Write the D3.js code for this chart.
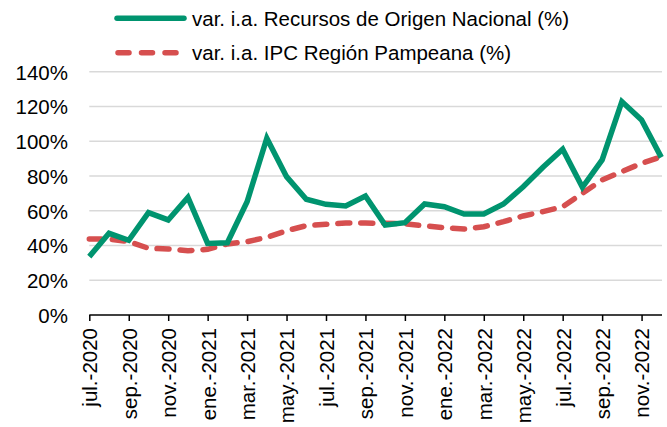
<!DOCTYPE html>
<meta charset="utf-8">
<style>
  body { margin: 0; background: #fff; }
  text { font-family: "Liberation Sans", Arial, sans-serif; fill: #000; }
  .grid line { stroke: #d9d9d9; stroke-width: 1.5; }
</style>
<body>
<script src="https://d3js.org/d3.v7.min.js"></script>
<script>

// months from jul-2020 to dic-2022
var months = ["jul.-2020","ago.-2020","sep.-2020","oct.-2020","nov.-2020","dic.-2020",
  "ene.-2021","feb.-2021","mar.-2021","abr.-2021","may.-2021","jun.-2021",
  "jul.-2021","ago.-2021","sep.-2021","oct.-2021","nov.-2021","dic.-2021",
  "ene.-2022","feb.-2022","mar.-2022","abr.-2022","may.-2022","jun.-2022",
  "jul.-2022","ago.-2022","sep.-2022","oct.-2022","nov.-2022","dic.-2022"];

// var. i.a. Recursos de Origen Nacional (%)
var recursos = [33.6, 47, 43, 58.9, 54.7, 67.7, 41.2, 41.6, 65.2, 101.7, 79.6, 66.6,
  63.7, 62.7, 68.5, 51.8, 53.1, 63.9, 62.3, 58.1, 58.1, 63.9, 73.8, 85,
  95.4, 73.5, 89.2, 122.8, 112.2, 90.7];

// var. i.a. IPC Region Pampeana (%)
var ipc = [43.7, 43.7, 42.2, 38.4, 38, 37, 37.8, 40.9, 42.2, 44.7, 48.5, 51.4,
  52.2, 53, 52.9, 52.8, 52.4, 51.4, 50.2, 49.5, 50.8, 53.7, 57, 59.5,
  62.3, 70, 77.7, 82.5, 87.3, 91.1];

var yTicks = [0, 20, 40, 60, 80, 100, 120, 140];

var legendLabels = ["var. i.a. Recursos de Origen Nacional (%)", "var. i.a. IPC Región Pampeana (%)"];

var green = "#00946f", red = "#d64f4f";

var width = 667, height = 427;
var svg = d3.select("body").append("svg")
    .attr("width", width)
    .attr("height", height);

// scales
var x = d3.scalePoint().domain(months).range([89.3, 661.3]);
var y = d3.scaleLinear().domain([0, 140]).range([315, 71.7]);

// gridlines
svg.append("g").attr("class", "grid")
  .selectAll("line")
  .data(yTicks.filter(function (d) { return d > 0; }))
  .enter().append("line")
  .attr("x1", 89.3).attr("x2", 662)
  .attr("y1", function (d) { return y(d); })
  .attr("y2", function (d) { return y(d); });

// y axis labels
var yAxis = svg.append("g")
  .attr("transform", "translate(68,0)")
  .call(d3.axisLeft(y).tickValues(yTicks).tickSize(0).tickPadding(0)
    .tickFormat(function (d) { return d + "%"; }));
yAxis.select(".domain").remove();
yAxis.selectAll("text").style("font-size", "20.5px").attr("dy", "0.36em");

// x axis
var shown = months.filter(function (d, i) { return i % 2 === 0; });
var xAxis = svg.append("g")
  .attr("transform", "translate(0,315)")
  .call(d3.axisBottom(x).tickValues(shown).tickSize(6).tickSizeOuter(0));
xAxis.select(".domain").attr("d", "M89.3,0H662").attr("stroke", "#000").attr("stroke-width", 1.5);
xAxis.selectAll(".tick line").attr("stroke", "#000").attr("stroke-width", 1.5);
xAxis.selectAll("text")
  .style("font-size", "20.5px")
  .attr("text-anchor", "end")
  .attr("transform", "rotate(-90)")
  .attr("x", -13)
  .attr("y", 0)
  .attr("dy", "0.36em");

// lines
var line = d3.line()
  .x(function (d, i) { return x(months[i]); })
  .y(function (d) { return y(d); });

svg.append("path")
  .datum(ipc)
  .attr("fill", "none")
  .attr("stroke", red)
  .attr("stroke-width", 5.5)
  .attr("stroke-dasharray", "12,11")
  .attr("stroke-linecap", "round")
  .attr("d", line);

svg.append("path")
  .datum(recursos)
  .attr("fill", "none")
  .attr("stroke", green)
  .attr("stroke-width", 5.5)
  .attr("stroke-linejoin", "miter")
  .attr("d", line);

// legend
var legend = svg.append("g");
legend.append("line")
  .attr("x1", 117).attr("x2", 184).attr("y1", 18.3).attr("y2", 18.3)
  .attr("stroke", green).attr("stroke-width", 5.5).attr("stroke-linecap", "round");
legend.append("line")
  .attr("x1", 118).attr("x2", 180).attr("y1", 52.7).attr("y2", 52.7)
  .attr("stroke", red).attr("stroke-width", 5.5).attr("stroke-linecap", "round")
  .attr("stroke-dasharray", "11,12.5");
legend.selectAll("text")
  .data(legendLabels)
  .enter().append("text")
  .attr("x", 192)
  .attr("y", function (d, i) { return 25.5 + i * 34.5; })
  .style("font-size", "20.5px")
  .text(function (d) { return d; });

</script>
</body>
